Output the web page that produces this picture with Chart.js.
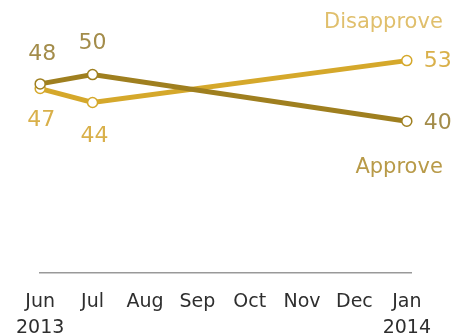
<!DOCTYPE html>
<html>
<head>
<meta charset="utf-8">
<script src="https://cdn.jsdelivr.net/npm/chart.js@4/dist/chart.umd.min.js"></script>
<style>
  html, body { margin: 0; padding: 0; background: #fff; }
  #wrap { width: 460px; height: 336px; position: relative; }
</style>
</head>
<body>
<div id="wrap"><canvas id="c" width="460" height="336"></canvas></div>
<script>
// Months from June 2013 to January 2014
const months = ['Jun', 'Jul', 'Aug', 'Sep', 'Oct', 'Nov', 'Dec', 'Jan'];
const years = ['2013', '', '', '', '', '', '', '2014'];

// Survey readings (month index, percent)
const approveX = [0, 1, 7];
const approveValues = [48, 50, 40];
const disapproveX = [0, 1, 7];
const disapproveValues = [47, 44, 53];

const seriesNames = ['Approve', 'Disapprove'];

const APPROVE_LINE = '#9f7f1f';
const DISAPPROVE_LINE = '#d5a82b';
const APPROVE_TEXT = '#a38c4a';
const DISAPPROVE_TEXT = '#d9b04a';
const FONT = '"DejaVu Sans", sans-serif';

function toPoints(xs, ys) {
  return xs.map((x, i) => ({ x: x, y: ys[i] }));
}

// Value labels: offsets relative to each point
const approveLabelPos = [
  { dx: 2, dy: -30, align: 'center' },
  { dx: 0, dy: -31, align: 'center' },
  { dx: 17, dy: 2, align: 'left' }
];
const disapproveLabelPos = [
  { dx: 1, dy: 32, align: 'center' },
  { dx: 2, dy: 34, align: 'center' },
  { dx: 17, dy: 1, align: 'left' }
];

const labelPlugin = {
  id: 'pointLabels',
  afterDatasetsDraw(chart) {
    const ctx = chart.ctx;
    ctx.save();
    ctx.textBaseline = 'middle';
    ctx.font = '22px ' + FONT;
    const sets = [
      { meta: chart.getDatasetMeta(0), vals: approveValues, pos: approveLabelPos, color: APPROVE_TEXT },
      { meta: chart.getDatasetMeta(1), vals: disapproveValues, pos: disapproveLabelPos, color: DISAPPROVE_TEXT }
    ];
    sets.forEach(s => {
      ctx.fillStyle = s.color;
      s.meta.data.forEach((pt, i) => {
        const p = s.pos[i];
        ctx.textAlign = p.align;
        ctx.fillText(String(s.vals[i]), pt.x + p.dx, pt.y + p.dy);
      });
    });
    // Series names beside the last points
    ctx.font = '21px ' + FONT;
    ctx.textAlign = 'right';
    const aLast = chart.getDatasetMeta(0).data[approveValues.length - 1];
    const dLast = chart.getDatasetMeta(1).data[disapproveValues.length - 1];
    ctx.fillStyle = '#b89a48';
    ctx.fillText(seriesNames[0], aLast.x + 36, aLast.y + 46);
    ctx.fillStyle = '#e0bf6c';
    ctx.fillText(seriesNames[1], dLast.x + 36, dLast.y - 38);
    ctx.restore();
  }
};

new Chart(document.getElementById('c'), {
  type: 'line',
  data: {
    datasets: [
      {
        label: seriesNames[0],
        data: toPoints(approveX, approveValues),
        borderColor: APPROVE_LINE,
        borderWidth: 5,
        pointRadius: 5,
        pointBorderWidth: 1.5,
        pointBackgroundColor: '#ffffff',
        pointBorderColor: APPROVE_LINE,
        tension: 0,
        clip: false
      },
      {
        label: seriesNames[1],
        data: toPoints(disapproveX, disapproveValues),
        borderColor: DISAPPROVE_LINE,
        borderWidth: 5,
        pointRadius: 5,
        pointBorderWidth: 1.5,
        pointBackgroundColor: '#ffffff',
        pointBorderColor: DISAPPROVE_LINE,
        tension: 0,
        clip: false
      }
    ]
  },
  options: {
    responsive: false,
    animation: false,
    layout: { padding: { top: 28, left: 36, right: 49, bottom: 0 } },
    plugins: { legend: { display: false }, tooltip: { enabled: false } },
    scales: {
      x: {
        type: 'linear',
        min: 0,
        max: 7.08,
        afterBuildTicks(scale) {
          scale.ticks = months.map((m, i) => ({ value: i }));
        },
        afterFit(scale) {
          scale.height = 63;
        },
        grid: { display: false, drawTicks: false },
        border: { display: true, color: '#999999', width: 1.5 },
        ticks: {
          padding: 16,
          maxRotation: 0,
          autoSkip: false,
          color: '#2e2e2e',
          font: { family: FONT, size: 19, lineHeight: 1.38 },
          callback(value) {
            const i = Math.round(value);
            return years[i] ? [months[i], years[i]] : months[i];
          }
        }
      },
      y: {
        display: false,
        min: 7.4,
        max: 60
      }
    }
  },
  plugins: [labelPlugin]
});
</script>
</body>
</html>
